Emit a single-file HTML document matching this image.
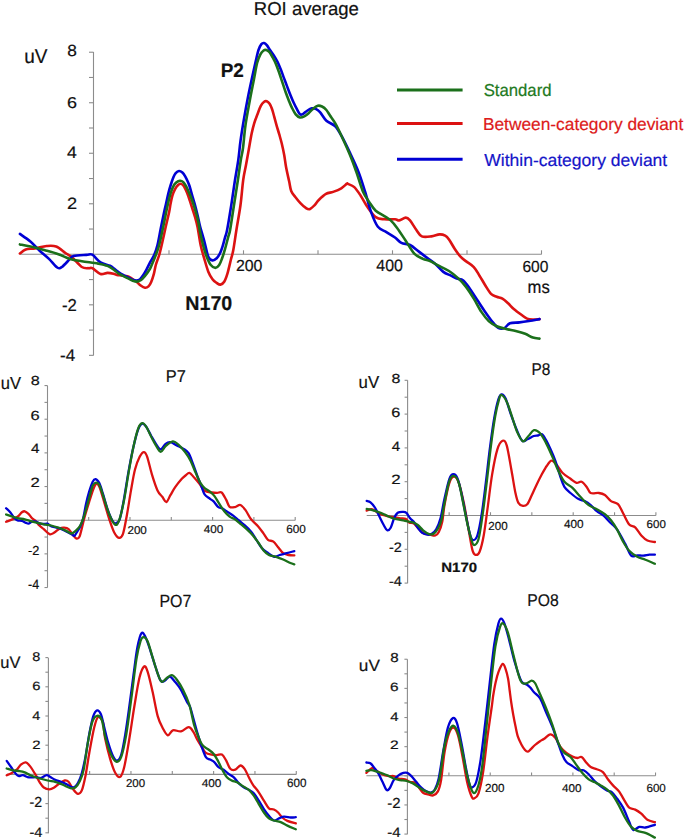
<!DOCTYPE html>
<html><head><meta charset="utf-8"><title>ROI average ERP</title>
<style>
html,body{margin:0;padding:0;background:#fff;}
body{width:685px;height:840px;overflow:hidden;}
svg{display:block;font-family:"Liberation Sans",sans-serif;text-rendering:geometricPrecision;}
</style></head><body>
<svg width="685" height="840" viewBox="0 0 685 840">
<rect width="685" height="840" fill="#fff"/>
<g stroke="#8c8c8c" stroke-width="1.10"><line x1="93.50" y1="52.00" x2="93.50" y2="355.60"/>
<line x1="20.00" y1="254.30" x2="541.60" y2="254.30"/>
<line x1="89.00" y1="355.34" x2="93.50" y2="355.34"/>
<line x1="89.00" y1="330.08" x2="93.50" y2="330.08"/>
<line x1="89.00" y1="304.82" x2="93.50" y2="304.82"/>
<line x1="89.00" y1="279.56" x2="93.50" y2="279.56"/>
<line x1="89.00" y1="254.30" x2="93.50" y2="254.30"/>
<line x1="89.00" y1="229.04" x2="93.50" y2="229.04"/>
<line x1="89.00" y1="203.78" x2="93.50" y2="203.78"/>
<line x1="89.00" y1="178.52" x2="93.50" y2="178.52"/>
<line x1="89.00" y1="153.26" x2="93.50" y2="153.26"/>
<line x1="89.00" y1="128.00" x2="93.50" y2="128.00"/>
<line x1="89.00" y1="102.74" x2="93.50" y2="102.74"/>
<line x1="89.00" y1="77.48" x2="93.50" y2="77.48"/>
<line x1="89.00" y1="52.22" x2="93.50" y2="52.22"/>
<line x1="169.00" y1="250.30" x2="169.00" y2="254.30"/>
<line x1="243.50" y1="250.30" x2="243.50" y2="254.30"/>
<line x1="318.00" y1="250.30" x2="318.00" y2="254.30"/>
<line x1="392.50" y1="250.30" x2="392.50" y2="254.30"/>
<line x1="467.00" y1="250.30" x2="467.00" y2="254.30"/>
<line x1="541.50" y1="250.30" x2="541.50" y2="254.30"/></g>
<path d="M19.90,253.50 C20.87,252.83 23.18,250.35 25.70,249.50 C28.22,248.65 31.50,248.98 35.00,248.40 C38.50,247.82 43.18,246.32 46.70,246.00 C50.22,245.68 52.98,245.33 56.10,246.50 C59.22,247.67 62.68,251.13 65.40,253.00 C68.12,254.87 69.67,255.37 72.40,257.70 C75.13,260.03 79.07,265.25 81.80,267.00 C84.53,268.75 87.05,268.00 88.80,268.20 C90.55,268.40 90.35,267.23 92.30,268.20 C94.25,269.17 97.97,273.22 100.50,274.00 C103.03,274.78 105.33,272.95 107.50,272.90 C109.67,272.85 111.92,273.35 113.50,273.70 C115.08,274.05 115.68,274.70 117.00,275.00 C118.32,275.30 119.65,275.28 121.40,275.50 C123.15,275.72 125.75,275.80 127.50,276.30 C129.25,276.80 130.43,277.62 131.90,278.50 C133.37,279.38 134.83,280.43 136.30,281.60 C137.77,282.77 139.25,284.48 140.70,285.50 C142.15,286.52 143.70,287.55 145.00,287.70 C146.30,287.85 147.47,287.35 148.50,286.40 C149.53,285.45 150.32,284.03 151.20,282.00 C152.08,279.97 153.03,277.03 153.80,274.20 C154.57,271.37 154.90,268.20 155.80,265.00 C156.70,261.80 158.22,258.33 159.20,255.00 C160.18,251.67 160.67,249.45 161.70,245.00 C162.73,240.55 164.15,233.85 165.40,228.30 C166.65,222.75 168.35,215.75 169.20,211.70 C170.05,207.65 169.97,206.70 170.50,204.00 C171.03,201.30 171.62,198.03 172.40,195.50 C173.18,192.97 174.25,190.55 175.20,188.80 C176.15,187.05 177.22,185.83 178.10,185.00 C178.98,184.17 179.63,183.72 180.50,183.80 C181.37,183.88 182.43,184.50 183.30,185.50 C184.17,186.50 184.90,188.13 185.70,189.80 C186.50,191.47 187.38,193.60 188.10,195.50 C188.82,197.40 189.27,198.95 190.00,201.20 C190.73,203.45 191.67,206.37 192.50,209.00 C193.33,211.63 194.17,214.05 195.00,217.00 C195.83,219.95 196.53,221.90 197.50,226.70 C198.47,231.50 199.68,240.53 200.80,245.80 C201.92,251.07 202.95,253.98 204.20,258.30 C205.45,262.62 206.92,268.22 208.30,271.70 C209.68,275.18 211.10,277.33 212.50,279.20 C213.90,281.07 215.38,282.00 216.70,282.90 C218.02,283.80 219.15,284.80 220.40,284.60 C221.65,284.40 223.02,283.58 224.20,281.70 C225.38,279.82 226.40,276.92 227.50,273.30 C228.60,269.68 229.83,263.88 230.80,260.00 C231.77,256.12 232.37,255.00 233.30,250.00 C234.23,245.00 235.20,237.50 236.40,230.00 C237.60,222.50 239.37,213.33 240.50,205.00 C241.63,196.67 242.28,186.67 243.20,180.00 C244.12,173.33 245.08,170.00 246.00,165.00 C246.92,160.00 247.75,155.28 248.70,150.00 C249.65,144.72 250.78,137.75 251.70,133.30 C252.62,128.85 253.23,126.48 254.20,123.30 C255.17,120.12 256.40,117.12 257.50,114.20 C258.60,111.28 259.68,107.88 260.80,105.80 C261.92,103.72 263.22,102.45 264.20,101.70 C265.18,100.95 265.80,100.95 266.70,101.30 C267.60,101.65 268.70,102.48 269.60,103.80 C270.50,105.12 271.33,107.05 272.10,109.20 C272.87,111.35 273.43,113.93 274.20,116.70 C274.97,119.47 275.87,122.88 276.70,125.80 C277.53,128.72 278.37,131.28 279.20,134.20 C280.03,137.12 280.87,139.83 281.70,143.30 C282.53,146.77 283.47,151.00 284.20,155.00 C284.93,159.00 285.27,162.87 286.10,167.30 C286.93,171.73 288.35,177.67 289.20,181.60 C290.05,185.53 290.18,188.33 291.20,190.90 C292.22,193.47 293.77,194.97 295.30,197.00 C296.83,199.03 298.70,201.32 300.40,203.10 C302.10,204.88 303.97,206.68 305.50,207.70 C307.03,208.72 308.07,209.63 309.60,209.20 C311.13,208.77 313.17,206.63 314.70,205.10 C316.23,203.57 316.92,201.87 318.80,200.00 C320.68,198.13 323.62,195.25 326.00,193.90 C328.38,192.55 330.55,192.83 333.10,191.90 C335.65,190.97 339.00,189.67 341.30,188.30 C343.60,186.93 345.80,184.43 346.90,183.70 C348.00,182.97 346.67,183.33 347.90,183.90 C349.13,184.47 352.17,185.13 354.30,187.10 C356.43,189.07 358.57,192.48 360.70,195.70 C362.83,198.92 364.60,202.83 367.10,206.40 C369.60,209.97 372.83,214.95 375.70,217.10 C378.57,219.25 381.08,218.93 384.30,219.30 C387.52,219.67 392.50,219.12 395.00,219.30 C397.50,219.48 397.52,220.68 399.30,220.40 C401.08,220.12 403.92,217.60 405.70,217.60 C407.48,217.60 408.22,218.33 410.00,220.40 C411.78,222.47 414.43,227.33 416.40,230.00 C418.37,232.67 419.30,235.33 421.80,236.40 C424.30,237.47 428.45,236.73 431.40,236.40 C434.35,236.07 437.20,234.52 439.50,234.40 C441.80,234.28 443.62,234.85 445.20,235.70 C446.78,236.55 447.40,237.28 449.00,239.50 C450.60,241.72 452.88,246.13 454.80,249.00 C456.72,251.87 458.60,254.63 460.50,256.70 C462.40,258.77 463.98,259.67 466.20,261.40 C468.42,263.13 471.58,264.72 473.80,267.10 C476.02,269.48 477.60,272.68 479.50,275.70 C481.40,278.72 483.28,282.18 485.20,285.20 C487.12,288.22 489.08,291.88 491.00,293.80 C492.92,295.72 494.80,295.90 496.70,296.70 C498.60,297.50 500.50,297.50 502.40,298.60 C504.30,299.70 506.20,301.57 508.10,303.30 C510.00,305.03 511.58,307.08 513.80,309.00 C516.02,310.92 519.18,313.20 521.40,314.80 C523.62,316.40 525.18,317.82 527.10,318.60 C529.02,319.38 530.83,319.42 532.90,319.50 C534.97,319.58 538.40,319.17 539.50,319.10" fill="none" stroke="#dc1212" stroke-width="2.60" stroke-linejoin="round" stroke-linecap="round"/>
<path d="M19.90,233.90 C21.65,235.15 27.10,238.60 30.40,241.40 C33.70,244.20 36.60,247.78 39.70,250.70 C42.80,253.62 46.08,256.10 49.00,258.90 C51.92,261.70 55.05,266.15 57.20,267.50 C59.35,268.85 59.77,268.43 61.90,267.00 C64.03,265.57 68.05,260.73 70.00,258.90 C71.95,257.07 70.87,256.67 73.60,256.00 C76.33,255.33 83.28,255.12 86.40,254.90 C89.52,254.68 89.95,253.45 92.30,254.70 C94.65,255.95 97.55,260.55 100.50,262.40 C103.45,264.25 107.68,264.72 110.00,265.80 C112.32,266.88 112.93,267.80 114.40,268.90 C115.87,270.00 117.35,271.38 118.80,272.40 C120.25,273.42 121.65,274.20 123.10,275.00 C124.55,275.80 126.03,276.47 127.50,277.20 C128.97,277.93 130.43,278.85 131.90,279.40 C133.37,279.95 134.98,280.50 136.30,280.50 C137.62,280.50 138.63,280.32 139.80,279.40 C140.97,278.48 142.13,276.75 143.30,275.00 C144.47,273.25 145.63,271.08 146.80,268.90 C147.97,266.72 149.07,264.22 150.30,261.90 C151.53,259.58 153.00,257.82 154.20,255.00 C155.40,252.18 156.40,249.45 157.50,245.00 C158.60,240.55 159.68,233.85 160.80,228.30 C161.92,222.75 163.30,215.90 164.20,211.70 C165.10,207.50 165.52,206.12 166.20,203.10 C166.88,200.08 167.55,196.62 168.30,193.60 C169.05,190.58 169.87,187.70 170.70,185.00 C171.53,182.30 172.47,179.38 173.30,177.40 C174.13,175.42 174.75,174.17 175.70,173.10 C176.65,172.03 177.88,171.08 179.00,171.00 C180.12,170.92 181.37,171.70 182.40,172.60 C183.43,173.50 184.33,174.97 185.20,176.40 C186.07,177.83 186.88,179.60 187.60,181.20 C188.32,182.80 188.68,183.42 189.50,186.00 C190.32,188.58 191.58,193.53 192.50,196.70 C193.42,199.87 194.17,201.95 195.00,205.00 C195.83,208.05 196.75,211.83 197.50,215.00 C198.25,218.17 199.00,221.83 199.50,224.00 C200.00,226.17 199.67,225.00 200.50,228.00 C201.33,231.00 203.20,237.22 204.50,242.00 C205.80,246.78 206.97,253.63 208.30,256.70 C209.63,259.77 211.10,260.13 212.50,260.40 C213.90,260.67 215.45,259.48 216.70,258.30 C217.95,257.12 219.03,255.23 220.00,253.30 C220.97,251.37 221.67,249.33 222.50,246.70 C223.33,244.07 224.23,240.28 225.00,237.50 C225.77,234.72 226.05,235.42 227.10,230.00 C228.15,224.58 229.98,213.33 231.30,205.00 C232.62,196.67 233.83,187.50 235.00,180.00 C236.17,172.50 237.38,166.50 238.30,160.00 C239.22,153.50 239.58,147.67 240.50,141.00 C241.42,134.33 242.55,127.33 243.80,120.00 C245.05,112.67 246.60,104.17 248.00,97.00 C249.40,89.83 250.87,83.17 252.20,77.00 C253.53,70.83 254.95,64.50 256.00,60.00 C257.05,55.50 257.60,52.65 258.50,50.00 C259.40,47.35 260.47,45.27 261.40,44.10 C262.33,42.93 263.20,42.82 264.10,43.00 C265.00,43.18 265.82,44.03 266.80,45.20 C267.78,46.37 268.83,48.30 270.00,50.00 C271.17,51.70 272.55,53.43 273.80,55.40 C275.05,57.37 276.35,59.48 277.50,61.80 C278.65,64.12 279.63,66.62 280.70,69.30 C281.77,71.98 282.83,75.05 283.90,77.90 C284.97,80.75 286.02,83.55 287.10,86.40 C288.18,89.25 289.32,92.32 290.40,95.00 C291.48,97.68 292.53,100.18 293.60,102.50 C294.67,104.82 295.73,106.93 296.80,108.90 C297.87,110.87 298.93,113.48 300.00,114.30 C301.07,115.12 301.95,114.43 303.20,113.80 C304.45,113.17 306.07,111.40 307.50,110.50 C308.93,109.60 310.43,108.67 311.80,108.40 C313.17,108.13 314.33,108.28 315.70,108.90 C317.07,109.52 318.22,110.13 320.00,112.10 C321.78,114.07 323.90,118.37 326.40,120.70 C328.90,123.03 332.50,123.60 335.00,126.10 C337.50,128.60 338.90,131.23 341.40,135.70 C343.90,140.17 347.13,146.83 350.00,152.90 C352.87,158.97 356.10,165.68 358.60,172.10 C361.10,178.52 362.87,184.60 365.00,191.40 C367.13,198.20 369.25,207.00 371.40,212.90 C373.55,218.80 375.40,223.60 377.90,226.80 C380.40,230.00 383.55,230.32 386.40,232.10 C389.25,233.88 392.50,235.70 395.00,237.50 C397.50,239.30 398.90,241.65 401.40,242.90 C403.90,244.15 407.13,243.58 410.00,245.00 C412.87,246.42 415.75,249.25 418.60,251.40 C421.45,253.55 424.25,255.75 427.10,257.90 C429.95,260.05 433.00,261.97 435.70,264.30 C438.40,266.63 440.75,270.00 443.30,271.90 C445.85,273.80 448.77,274.58 451.00,275.70 C453.23,276.82 454.65,277.80 456.70,278.60 C458.75,279.40 461.08,278.77 463.30,280.50 C465.52,282.23 467.62,285.67 470.00,289.00 C472.38,292.33 475.07,296.68 477.60,300.50 C480.13,304.32 482.65,308.25 485.20,311.90 C487.75,315.55 490.67,319.70 492.90,322.40 C495.13,325.10 496.70,327.15 498.60,328.10 C500.50,329.05 502.40,328.90 504.30,328.10 C506.20,327.30 507.47,324.25 510.00,323.30 C512.53,322.35 516.33,322.78 519.50,322.40 C522.67,322.02 525.67,321.55 529.00,321.00 C532.33,320.45 537.75,319.42 539.50,319.10" fill="none" stroke="#0000d4" stroke-width="2.60" stroke-linejoin="round" stroke-linecap="round"/>
<path d="M19.90,244.40 C21.65,244.75 25.93,245.45 30.40,246.50 C34.87,247.55 42.03,249.42 46.70,250.70 C51.37,251.98 54.50,252.83 58.40,254.20 C62.30,255.57 66.20,257.73 70.10,258.90 C74.00,260.07 77.13,260.42 81.80,261.20 C86.47,261.98 93.82,262.82 98.10,263.60 C102.38,264.38 104.78,264.80 107.50,265.90 C110.22,267.00 112.52,268.90 114.40,270.20 C116.28,271.50 117.35,272.75 118.80,273.70 C120.25,274.65 121.65,275.17 123.10,275.90 C124.55,276.63 125.88,277.30 127.50,278.10 C129.12,278.90 131.18,280.12 132.80,280.70 C134.42,281.28 135.88,281.67 137.20,281.60 C138.52,281.53 139.40,281.25 140.70,280.30 C142.00,279.35 143.55,277.65 145.00,275.90 C146.45,274.15 148.28,271.62 149.40,269.80 C150.52,267.98 150.63,267.47 151.70,265.00 C152.77,262.53 154.55,258.33 155.80,255.00 C157.05,251.67 158.02,249.45 159.20,245.00 C160.38,240.55 161.72,233.85 162.90,228.30 C164.08,222.75 165.38,215.90 166.25,211.70 C167.12,207.50 167.39,206.12 168.10,203.10 C168.81,200.08 169.63,196.38 170.50,193.60 C171.37,190.82 172.35,188.23 173.30,186.40 C174.25,184.57 175.08,183.55 176.20,182.60 C177.32,181.65 178.82,180.78 180.00,180.70 C181.18,180.62 182.27,181.15 183.30,182.10 C184.33,183.05 185.32,184.80 186.20,186.40 C187.08,188.00 187.68,189.57 188.60,191.70 C189.52,193.83 190.63,196.28 191.70,199.20 C192.77,202.12 193.90,205.45 195.00,209.20 C196.10,212.95 197.47,217.95 198.30,221.70 C199.13,225.45 199.17,227.68 200.00,231.70 C200.83,235.72 202.18,241.63 203.30,245.80 C204.42,249.97 205.45,253.50 206.70,256.70 C207.95,259.90 209.35,263.13 210.80,265.00 C212.25,266.87 214.00,267.90 215.40,267.90 C216.80,267.90 218.08,266.60 219.20,265.00 C220.32,263.40 221.13,260.93 222.10,258.30 C223.07,255.67 223.97,252.80 225.00,249.20 C226.03,245.60 227.45,239.90 228.30,236.70 C229.15,233.50 229.15,235.28 230.10,230.00 C231.05,224.72 232.70,213.33 234.00,205.00 C235.30,196.67 236.77,187.50 237.90,180.00 C239.03,172.50 239.95,165.33 240.80,160.00 C241.65,154.67 242.22,153.83 243.00,148.00 C243.78,142.17 244.38,132.83 245.50,125.00 C246.62,117.17 248.32,108.50 249.70,101.00 C251.08,93.50 252.57,86.33 253.80,80.00 C255.03,73.67 256.00,67.28 257.10,63.00 C258.20,58.72 259.32,56.38 260.40,54.30 C261.48,52.22 262.62,51.22 263.60,50.50 C264.58,49.78 265.32,49.73 266.30,50.00 C267.28,50.27 268.43,50.85 269.50,52.10 C270.57,53.35 271.63,55.53 272.70,57.50 C273.77,59.47 274.83,61.40 275.90,63.90 C276.97,66.40 278.03,69.47 279.10,72.50 C280.17,75.53 281.23,78.88 282.30,82.10 C283.37,85.32 284.42,88.75 285.50,91.80 C286.58,94.85 287.72,97.72 288.80,100.40 C289.88,103.08 290.85,105.58 292.00,107.90 C293.15,110.22 294.37,112.70 295.70,114.30 C297.03,115.90 298.57,117.15 300.00,117.50 C301.43,117.85 302.87,117.12 304.30,116.40 C305.73,115.68 307.17,114.45 308.60,113.20 C310.03,111.95 311.37,110.15 312.90,108.90 C314.43,107.65 316.28,106.10 317.80,105.70 C319.32,105.30 320.57,105.78 322.00,106.50 C323.43,107.22 325.07,108.50 326.40,110.00 C327.73,111.50 328.57,113.35 330.00,115.50 C331.43,117.65 333.10,119.53 335.00,122.90 C336.90,126.27 338.90,130.35 341.40,135.70 C343.90,141.05 347.50,148.93 350.00,155.00 C352.50,161.07 354.25,166.03 356.40,172.10 C358.55,178.17 360.75,186.40 362.90,191.40 C365.05,196.40 367.17,198.88 369.30,202.10 C371.43,205.32 373.20,208.37 375.70,210.70 C378.20,213.03 381.80,214.48 384.30,216.10 C386.80,217.72 388.57,218.43 390.70,220.40 C392.83,222.37 394.60,224.52 397.10,227.90 C399.60,231.28 402.83,236.42 405.70,240.70 C408.57,244.98 411.43,250.57 414.30,253.60 C417.17,256.63 420.28,257.67 422.90,258.90 C425.52,260.13 427.55,259.95 430.00,261.00 C432.45,262.05 434.43,263.53 437.60,265.20 C440.77,266.87 445.50,268.77 449.00,271.00 C452.50,273.23 455.73,275.92 458.60,278.60 C461.47,281.28 463.67,283.77 466.20,287.10 C468.73,290.43 471.27,294.47 473.80,298.60 C476.33,302.73 478.87,308.10 481.40,311.90 C483.93,315.70 486.45,319.02 489.00,321.40 C491.55,323.78 493.83,324.93 496.70,326.20 C499.57,327.47 503.03,328.20 506.20,329.00 C509.37,329.80 512.53,330.20 515.70,331.00 C518.87,331.80 522.33,332.70 525.20,333.80 C528.07,334.90 530.52,336.80 532.90,337.60 C535.28,338.40 538.40,338.43 539.50,338.60" fill="none" stroke="#1b701b" stroke-width="2.60" stroke-linejoin="round" stroke-linecap="round"/>
<text x="67.25" y="56.44" font-size="16.24" textLength="9.60" lengthAdjust="spacingAndGlyphs" fill="#111" stroke="#111" stroke-width="0.20">8</text>
<text x="67.09" y="107.85" font-size="15.68" textLength="10.00" lengthAdjust="spacingAndGlyphs" fill="#111" stroke="#111" stroke-width="0.20">6</text>
<text x="66.99" y="158.30" font-size="16.57" textLength="9.82" lengthAdjust="spacingAndGlyphs" fill="#111" stroke="#111" stroke-width="0.20">4</text>
<text x="67.08" y="209.00" font-size="16.33" textLength="10.13" lengthAdjust="spacingAndGlyphs" fill="#111" stroke="#111" stroke-width="0.20">2</text>
<text x="62.06" y="310.60" font-size="17.33" textLength="14.89" lengthAdjust="spacingAndGlyphs" fill="#111" stroke="#111" stroke-width="0.20">-2</text>
<text x="60.14" y="360.80" font-size="16.86" textLength="15.16" lengthAdjust="spacingAndGlyphs" fill="#111" stroke="#111" stroke-width="0.20">-4</text>
<text x="24.17" y="62.90" font-size="19.90" textLength="23.22" lengthAdjust="spacingAndGlyphs" fill="#111" stroke="#111" stroke-width="0.20">uV</text>
<text x="235.90" y="270.94" font-size="16.10" textLength="26.52" lengthAdjust="spacingAndGlyphs" fill="#111" stroke="#111" stroke-width="0.20">200</text>
<text x="376.33" y="271.44" font-size="16.38" textLength="26.59" lengthAdjust="spacingAndGlyphs" fill="#111" stroke="#111" stroke-width="0.20">400</text>
<text x="522.41" y="271.74" font-size="16.10" textLength="26.00" lengthAdjust="spacingAndGlyphs" fill="#111" stroke="#111" stroke-width="0.20">600</text>
<text x="527.59" y="292.70" font-size="17.80" textLength="22.21" lengthAdjust="spacingAndGlyphs" fill="#111" stroke="#111" stroke-width="0.20">ms</text>
<text x="253.78" y="14.90" font-size="18.70" textLength="105.15" lengthAdjust="spacingAndGlyphs" fill="#111" stroke="#111" stroke-width="0.20">ROI average</text>
<text x="220.74" y="76.60" font-size="19.60" textLength="23.12" lengthAdjust="spacingAndGlyphs" fill="#111" stroke="#111" stroke-width="0.20" font-weight="bold">P2</text>
<text x="185.28" y="309.60" font-size="20.00" textLength="47.02" lengthAdjust="spacingAndGlyphs" fill="#111" stroke="#111" stroke-width="0.20" font-weight="bold">N170</text>
<line x1="397" y1="90.0" x2="462.6" y2="90.0" stroke="#1b701b" stroke-width="3"/>
<line x1="397" y1="123.4" x2="462.6" y2="123.4" stroke="#dc1212" stroke-width="3"/>
<line x1="397" y1="159.2" x2="462.6" y2="159.2" stroke="#0000d4" stroke-width="3"/>
<text x="483.64" y="96.00" font-size="17.30" textLength="67.94" lengthAdjust="spacingAndGlyphs" fill="#1e7a1e" stroke="#1e7a1e" stroke-width="0.20">Standard</text>
<text x="482.88" y="130.10" font-size="17.30" textLength="200.45" lengthAdjust="spacingAndGlyphs" fill="#dd1a1a" stroke="#dd1a1a" stroke-width="0.20">Between-category deviant</text>
<text x="484.22" y="166.10" font-size="17.30" textLength="183.01" lengthAdjust="spacingAndGlyphs" fill="#1414c8" stroke="#1414c8" stroke-width="0.20">Within-category deviant</text>
<g stroke="#8c8c8c" stroke-width="1.10"><line x1="47.50" y1="385.60" x2="47.50" y2="587.60"/>
<line x1="6.00" y1="520.20" x2="295.30" y2="520.20"/>
<line x1="44.50" y1="587.52" x2="47.50" y2="587.52"/>
<line x1="44.50" y1="570.69" x2="47.50" y2="570.69"/>
<line x1="44.50" y1="553.86" x2="47.50" y2="553.86"/>
<line x1="44.50" y1="537.03" x2="47.50" y2="537.03"/>
<line x1="44.50" y1="520.20" x2="47.50" y2="520.20"/>
<line x1="44.50" y1="503.37" x2="47.50" y2="503.37"/>
<line x1="44.50" y1="486.54" x2="47.50" y2="486.54"/>
<line x1="44.50" y1="469.71" x2="47.50" y2="469.71"/>
<line x1="44.50" y1="452.88" x2="47.50" y2="452.88"/>
<line x1="44.50" y1="436.05" x2="47.50" y2="436.05"/>
<line x1="44.50" y1="419.22" x2="47.50" y2="419.22"/>
<line x1="44.50" y1="402.39" x2="47.50" y2="402.39"/>
<line x1="44.50" y1="385.56" x2="47.50" y2="385.56"/>
<line x1="88.70" y1="516.90" x2="88.70" y2="520.20"/>
<line x1="130.00" y1="516.90" x2="130.00" y2="520.20"/>
<line x1="171.30" y1="516.90" x2="171.30" y2="520.20"/>
<line x1="212.60" y1="516.90" x2="212.60" y2="520.20"/>
<line x1="253.90" y1="516.90" x2="253.90" y2="520.20"/>
<line x1="295.20" y1="516.90" x2="295.20" y2="520.20"/></g>
<path d="M6.10,521.80 C7.03,521.43 9.80,520.45 11.70,519.60 C13.60,518.75 15.80,517.92 17.50,516.70 C19.20,515.48 20.68,513.20 21.90,512.30 C23.12,511.40 23.70,511.05 24.80,511.30 C25.90,511.55 27.28,512.65 28.50,513.80 C29.72,514.95 30.88,516.98 32.10,518.20 C33.32,519.42 34.58,519.88 35.80,521.10 C37.02,522.32 38.07,524.17 39.40,525.50 C40.73,526.83 42.10,527.65 43.80,529.10 C45.50,530.55 47.90,533.58 49.60,534.20 C51.30,534.82 52.28,533.77 54.00,532.80 C55.72,531.83 58.20,529.25 59.90,528.40 C61.60,527.55 62.75,527.58 64.20,527.70 C65.65,527.82 67.25,528.02 68.60,529.10 C69.95,530.18 70.97,532.62 72.30,534.20 C73.63,535.78 75.38,538.23 76.60,538.60 C77.82,538.97 78.73,538.10 79.60,536.40 C80.47,534.70 80.95,531.68 81.80,528.40 C82.65,525.12 83.48,521.08 84.70,516.70 C85.92,512.32 87.65,506.72 89.10,502.10 C90.55,497.48 92.18,492.02 93.40,489.00 C94.62,485.98 95.37,484.30 96.40,484.00 C97.43,483.70 98.25,484.00 99.60,487.20 C100.95,490.40 102.88,497.85 104.50,503.20 C106.12,508.55 107.70,514.47 109.30,519.30 C110.90,524.13 112.50,529.12 114.10,532.20 C115.70,535.28 117.42,537.53 118.90,537.80 C120.38,538.07 121.65,537.68 123.00,533.80 C124.35,529.92 125.67,521.73 127.00,514.50 C128.33,507.27 129.67,497.90 131.00,490.40 C132.33,482.90 133.53,475.13 135.00,469.50 C136.47,463.87 138.32,459.50 139.80,456.60 C141.28,453.70 142.68,452.10 143.90,452.10 C145.12,452.10 145.77,452.90 147.10,456.60 C148.43,460.30 150.17,468.67 151.90,474.30 C153.63,479.93 155.77,486.65 157.50,490.40 C159.23,494.15 160.82,494.87 162.30,496.80 C163.78,498.73 165.05,502.27 166.40,502.00 C167.75,501.73 168.93,497.67 170.40,495.20 C171.87,492.73 173.33,489.88 175.20,487.20 C177.07,484.52 179.88,481.05 181.60,479.10 C183.32,477.15 184.18,476.53 185.50,475.50 C186.82,474.47 188.10,472.60 189.50,472.90 C190.90,473.20 192.27,475.52 193.90,477.30 C195.53,479.08 197.52,481.37 199.30,483.60 C201.08,485.83 202.52,489.22 204.60,490.70 C206.68,492.18 209.72,492.13 211.80,492.50 C213.88,492.87 215.47,492.90 217.10,492.90 C218.73,492.90 220.10,491.38 221.60,492.50 C223.10,493.62 224.77,497.22 226.10,499.60 C227.43,501.98 228.12,505.55 229.60,506.80 C231.08,508.05 233.20,507.40 235.00,507.10 C236.80,506.80 238.62,504.45 240.40,505.00 C242.18,505.55 243.92,508.02 245.70,510.40 C247.48,512.78 249.02,516.63 251.10,519.30 C253.18,521.97 256.12,524.02 258.20,526.40 C260.28,528.78 261.97,531.37 263.60,533.60 C265.23,535.83 266.37,538.47 268.00,539.80 C269.63,541.13 271.75,540.40 273.40,541.60 C275.05,542.80 276.27,545.07 277.90,547.00 C279.53,548.93 281.42,551.87 283.20,553.20 C284.98,554.53 286.75,554.63 288.60,555.00 C290.45,555.37 293.35,555.33 294.30,555.40" fill="none" stroke="#dc1212" stroke-width="2.30" stroke-linejoin="round" stroke-linecap="round"/>
<path d="M6.10,508.20 C6.78,508.88 8.78,510.63 10.20,512.30 C11.62,513.97 13.38,516.85 14.60,518.20 C15.82,519.55 16.28,519.97 17.50,520.40 C18.72,520.83 20.57,520.43 21.90,520.80 C23.23,521.17 24.40,522.12 25.50,522.60 C26.60,523.08 27.52,523.83 28.50,523.70 C29.48,523.57 30.32,522.18 31.40,521.80 C32.48,521.42 33.67,521.15 35.00,521.40 C36.33,521.65 37.93,522.87 39.40,523.30 C40.87,523.73 42.47,523.93 43.80,524.00 C45.13,524.07 46.18,523.33 47.40,523.70 C48.62,524.07 49.88,525.62 51.10,526.20 C52.32,526.78 53.23,526.83 54.70,527.20 C56.17,527.57 58.07,527.72 59.90,528.40 C61.73,529.08 63.77,530.33 65.70,531.30 C67.63,532.27 70.03,533.47 71.50,534.20 C72.97,534.93 73.52,536.18 74.50,535.70 C75.48,535.22 76.43,532.88 77.40,531.30 C78.37,529.72 79.33,528.38 80.30,526.20 C81.27,524.02 82.23,521.97 83.20,518.20 C84.17,514.43 85.12,507.98 86.10,503.60 C87.08,499.22 88.00,495.55 89.10,491.90 C90.20,488.25 91.62,483.83 92.70,481.70 C93.78,479.57 94.50,478.87 95.60,479.10 C96.70,479.33 98.08,480.68 99.30,483.10 C100.52,485.52 101.50,489.17 102.90,493.60 C104.30,498.03 106.10,505.15 107.70,509.70 C109.30,514.25 111.17,518.63 112.50,520.90 C113.83,523.17 114.50,523.57 115.70,523.30 C116.90,523.03 118.35,523.18 119.70,519.30 C121.05,515.42 122.32,508.03 123.80,500.00 C125.28,491.97 127.00,479.93 128.60,471.10 C130.20,462.27 131.80,453.97 133.40,447.00 C135.00,440.03 136.72,433.18 138.20,429.30 C139.68,425.42 140.95,424.10 142.30,423.70 C143.65,423.30 144.83,424.90 146.30,426.90 C147.77,428.90 149.50,432.88 151.10,435.70 C152.70,438.52 154.30,441.52 155.90,443.80 C157.50,446.08 159.08,449.40 160.70,449.40 C162.32,449.40 163.98,445.00 165.60,443.80 C167.22,442.60 168.53,441.93 170.40,442.20 C172.27,442.47 174.67,444.33 176.80,445.40 C178.93,446.47 181.23,447.30 183.20,448.60 C185.17,449.90 186.97,450.65 188.60,453.20 C190.23,455.75 191.52,460.03 193.00,463.90 C194.48,467.77 196.15,472.82 197.50,476.40 C198.85,479.98 199.92,482.42 201.10,485.40 C202.28,488.38 203.12,492.07 204.60,494.30 C206.08,496.53 208.50,497.62 210.00,498.80 C211.50,499.98 212.27,500.07 213.60,501.40 C214.93,502.73 216.52,505.60 218.00,506.80 C219.48,508.00 220.85,507.72 222.50,508.60 C224.15,509.48 226.12,510.92 227.90,512.10 C229.68,513.28 231.42,514.35 233.20,515.70 C234.98,517.05 236.82,518.72 238.60,520.20 C240.38,521.68 241.82,522.67 243.90,524.60 C245.98,526.53 249.02,529.27 251.10,531.80 C253.18,534.33 254.62,537.12 256.40,539.80 C258.18,542.48 260.02,545.82 261.80,547.90 C263.58,549.98 265.02,550.82 267.10,552.30 C269.18,553.78 272.22,556.35 274.30,556.80 C276.38,557.25 277.52,555.60 279.60,555.00 C281.68,554.40 284.35,553.85 286.80,553.20 C289.25,552.55 293.05,551.45 294.30,551.10" fill="none" stroke="#0000d4" stroke-width="2.30" stroke-linejoin="round" stroke-linecap="round"/>
<path d="M6.10,514.50 C7.03,514.82 9.80,515.78 11.70,516.40 C13.60,517.02 15.32,517.72 17.50,518.20 C19.68,518.68 22.60,518.82 24.80,519.30 C27.00,519.78 28.75,520.55 30.70,521.10 C32.65,521.65 34.32,522.07 36.50,522.60 C38.68,523.13 41.37,523.82 43.80,524.30 C46.23,524.78 48.67,524.93 51.10,525.50 C53.53,526.07 55.97,526.85 58.40,527.70 C60.83,528.55 63.52,529.63 65.70,530.60 C67.88,531.57 69.80,533.50 71.50,533.50 C73.20,533.50 74.43,531.93 75.90,530.60 C77.37,529.27 78.97,527.82 80.30,525.50 C81.63,523.18 82.68,520.35 83.90,516.70 C85.12,513.05 86.38,507.98 87.60,503.60 C88.82,499.22 90.27,493.53 91.20,490.40 C92.13,487.27 92.33,486.08 93.20,484.80 C94.07,483.52 95.33,482.57 96.40,482.70 C97.47,482.83 98.25,482.72 99.60,485.60 C100.95,488.48 102.88,495.18 104.50,500.00 C106.12,504.82 107.57,510.42 109.30,514.50 C111.03,518.58 113.30,523.43 114.90,524.50 C116.50,525.57 117.42,524.72 118.90,520.90 C120.38,517.08 122.18,509.63 123.80,501.60 C125.42,493.57 127.00,481.80 128.60,472.70 C130.20,463.60 131.80,454.37 133.40,447.00 C135.00,439.63 136.72,432.47 138.20,428.50 C139.68,424.53 140.95,423.47 142.30,423.20 C143.65,422.93 144.83,424.68 146.30,426.90 C147.77,429.12 149.50,433.42 151.10,436.50 C152.70,439.58 154.30,442.85 155.90,445.40 C157.50,447.95 159.08,451.67 160.70,451.80 C162.32,451.93 163.58,447.93 165.60,446.20 C167.62,444.47 170.67,441.67 172.80,441.40 C174.93,441.13 176.38,442.87 178.40,444.60 C180.42,446.33 182.90,449.17 184.90,451.80 C186.90,454.43 188.60,456.88 190.40,460.40 C192.20,463.92 194.07,469.18 195.70,472.90 C197.33,476.62 198.72,480.18 200.20,482.70 C201.68,485.22 202.97,486.52 204.60,488.00 C206.23,489.48 208.35,490.25 210.00,491.60 C211.65,492.95 213.02,494.17 214.50,496.10 C215.98,498.03 217.27,500.67 218.90,503.20 C220.53,505.73 222.52,509.07 224.30,511.30 C226.08,513.53 227.82,515.27 229.60,516.60 C231.38,517.93 233.20,518.10 235.00,519.30 C236.80,520.50 238.32,522.02 240.40,523.80 C242.48,525.58 245.42,528.07 247.50,530.00 C249.58,531.93 251.12,533.32 252.90,535.40 C254.68,537.48 256.42,539.98 258.20,542.50 C259.98,545.02 261.82,548.42 263.60,550.50 C265.38,552.58 266.82,553.95 268.90,555.00 C270.98,556.05 273.72,556.05 276.10,556.80 C278.48,557.55 280.82,558.47 283.20,559.50 C285.58,560.53 288.55,562.20 290.40,563.00 C292.25,563.80 293.65,564.08 294.30,564.30" fill="none" stroke="#1b701b" stroke-width="2.30" stroke-linejoin="round" stroke-linecap="round"/>
<text x="30.70" y="385.47" font-size="13.14" textLength="9.01" lengthAdjust="spacingAndGlyphs" fill="#111" stroke="#111" stroke-width="0.20">8</text>
<text x="30.56" y="419.77" font-size="13.14" textLength="9.16" lengthAdjust="spacingAndGlyphs" fill="#111" stroke="#111" stroke-width="0.20">6</text>
<text x="30.95" y="453.40" font-size="13.52" textLength="8.50" lengthAdjust="spacingAndGlyphs" fill="#111" stroke="#111" stroke-width="0.20">4</text>
<text x="30.56" y="487.00" font-size="13.32" textLength="9.28" lengthAdjust="spacingAndGlyphs" fill="#111" stroke="#111" stroke-width="0.20">2</text>
<text x="28.03" y="555.10" font-size="13.18" textLength="11.42" lengthAdjust="spacingAndGlyphs" fill="#111" stroke="#111" stroke-width="0.20">-2</text>
<text x="28.04" y="588.90" font-size="13.52" textLength="11.12" lengthAdjust="spacingAndGlyphs" fill="#111" stroke="#111" stroke-width="0.20">-4</text>
<text x="0.82" y="389.40" font-size="17.40" textLength="20.25" lengthAdjust="spacingAndGlyphs" fill="#111" stroke="#111" stroke-width="0.20">uV</text>
<text x="165.75" y="382.00" font-size="17.00" textLength="20.07" lengthAdjust="spacingAndGlyphs" fill="#111" stroke="#111" stroke-width="0.20">P7</text>
<text x="127.41" y="533.99" font-size="11.44" textLength="19.44" lengthAdjust="spacingAndGlyphs" fill="#111" stroke="#111" stroke-width="0.20">200</text>
<text x="203.73" y="532.79" font-size="11.44" textLength="19.53" lengthAdjust="spacingAndGlyphs" fill="#111" stroke="#111" stroke-width="0.20">400</text>
<text x="286.20" y="532.89" font-size="11.58" textLength="19.66" lengthAdjust="spacingAndGlyphs" fill="#111" stroke="#111" stroke-width="0.20">600</text>
<g stroke="#8c8c8c" stroke-width="1.10"><line x1="407.60" y1="380.30" x2="407.60" y2="583.30"/>
<line x1="366.70" y1="515.50" x2="655.90" y2="515.50"/>
<line x1="404.60" y1="583.10" x2="407.60" y2="583.10"/>
<line x1="404.60" y1="566.20" x2="407.60" y2="566.20"/>
<line x1="404.60" y1="549.30" x2="407.60" y2="549.30"/>
<line x1="404.60" y1="532.40" x2="407.60" y2="532.40"/>
<line x1="404.60" y1="515.50" x2="407.60" y2="515.50"/>
<line x1="404.60" y1="498.60" x2="407.60" y2="498.60"/>
<line x1="404.60" y1="481.70" x2="407.60" y2="481.70"/>
<line x1="404.60" y1="464.80" x2="407.60" y2="464.80"/>
<line x1="404.60" y1="447.90" x2="407.60" y2="447.90"/>
<line x1="404.60" y1="431.00" x2="407.60" y2="431.00"/>
<line x1="404.60" y1="414.10" x2="407.60" y2="414.10"/>
<line x1="404.60" y1="397.20" x2="407.60" y2="397.20"/>
<line x1="404.60" y1="380.30" x2="407.60" y2="380.30"/>
<line x1="449.15" y1="512.20" x2="449.15" y2="515.50"/>
<line x1="490.50" y1="512.20" x2="490.50" y2="515.50"/>
<line x1="531.85" y1="512.20" x2="531.85" y2="515.50"/>
<line x1="573.20" y1="512.20" x2="573.20" y2="515.50"/>
<line x1="614.55" y1="512.20" x2="614.55" y2="515.50"/>
<line x1="655.90" y1="512.20" x2="655.90" y2="515.50"/></g>
<path d="M366.70,510.70 C367.63,510.47 370.20,508.80 372.30,509.30 C374.40,509.80 376.97,512.60 379.30,513.70 C381.63,514.80 383.97,515.32 386.30,515.90 C388.63,516.48 390.97,516.78 393.30,517.20 C395.63,517.62 398.25,518.12 400.30,518.40 C402.35,518.68 404.13,518.23 405.60,518.90 C407.07,519.57 407.80,521.67 409.10,522.40 C410.40,523.13 411.95,522.42 413.40,523.30 C414.85,524.18 416.18,526.10 417.80,527.70 C419.42,529.30 421.05,531.73 423.10,532.90 C425.15,534.07 428.07,534.27 430.10,534.70 C432.13,535.13 433.85,535.95 435.30,535.50 C436.75,535.05 437.63,534.33 438.80,532.00 C439.97,529.67 441.35,526.00 442.30,521.50 C443.25,517.00 443.32,511.43 444.50,505.00 C445.68,498.57 447.78,487.62 449.40,482.90 C451.02,478.18 452.63,476.70 454.20,476.70 C455.77,476.70 457.17,478.38 458.80,482.90 C460.43,487.42 462.45,496.50 464.00,503.80 C465.55,511.10 466.72,519.07 468.10,526.70 C469.48,534.33 471.08,544.92 472.30,549.60 C473.52,554.28 474.18,554.45 475.40,554.80 C476.62,555.15 478.20,555.00 479.60,551.70 C481.00,548.40 482.42,542.65 483.80,535.00 C485.18,527.35 486.52,515.87 487.90,505.80 C489.28,495.73 490.53,483.97 492.10,474.60 C493.67,465.23 495.57,455.23 497.30,449.60 C499.03,443.97 500.93,441.50 502.50,440.80 C504.07,440.10 505.20,440.45 506.70,445.40 C508.20,450.35 510.05,462.60 511.50,470.50 C512.95,478.40 514.25,487.40 515.40,492.80 C516.55,498.20 517.15,500.72 518.40,502.90 C519.65,505.08 521.38,505.73 522.90,505.90 C524.42,506.07 526.07,505.58 527.50,503.90 C528.93,502.22 529.98,499.00 531.50,495.80 C533.02,492.60 534.90,488.25 536.60,484.70 C538.30,481.15 540.10,477.50 541.70,474.50 C543.30,471.50 545.45,468.00 546.20,466.70 C546.95,465.40 545.35,467.72 546.20,466.70 C547.05,465.68 549.62,460.95 551.30,460.60 C552.98,460.25 554.45,462.58 556.30,464.60 C558.15,466.62 560.03,470.33 562.40,472.70 C564.77,475.07 568.15,477.10 570.50,478.80 C572.85,480.50 574.65,482.40 576.50,482.90 C578.35,483.40 579.90,481.13 581.60,481.80 C583.30,482.47 585.18,485.03 586.70,486.90 C588.22,488.77 588.68,491.98 590.70,493.00 C592.72,494.02 596.43,492.67 598.80,493.00 C601.17,493.33 602.87,493.65 604.90,495.00 C606.93,496.35 608.82,499.58 611.00,501.10 C613.18,502.62 615.98,502.08 618.00,504.10 C620.02,506.12 621.23,509.82 623.10,513.20 C624.97,516.58 627.18,522.03 629.20,524.40 C631.22,526.77 633.18,525.55 635.20,527.40 C637.22,529.25 639.27,533.32 641.30,535.50 C643.33,537.68 645.13,539.42 647.40,540.50 C649.67,541.58 653.65,541.75 654.90,542.00" fill="none" stroke="#dc1212" stroke-width="2.30" stroke-linejoin="round" stroke-linecap="round"/>
<path d="M366.70,500.90 C367.33,501.13 369.13,501.20 370.50,502.30 C371.87,503.40 373.43,505.17 374.90,507.50 C376.37,509.83 377.83,513.38 379.30,516.30 C380.77,519.22 382.38,522.67 383.70,525.00 C385.02,527.33 386.03,529.85 387.20,530.30 C388.37,530.75 389.53,529.75 390.70,527.70 C391.87,525.65 393.03,520.48 394.20,518.00 C395.37,515.52 396.25,513.82 397.70,512.80 C399.15,511.78 401.45,511.90 402.90,511.90 C404.35,511.90 405.23,511.78 406.40,512.80 C407.57,513.82 408.58,516.40 409.90,518.00 C411.22,519.60 412.98,520.78 414.30,522.40 C415.62,524.02 416.48,525.95 417.80,527.70 C419.12,529.45 420.60,531.73 422.20,532.90 C423.80,534.07 425.80,534.55 427.40,534.70 C429.00,534.85 430.33,534.68 431.80,533.80 C433.27,532.92 434.73,532.03 436.20,529.40 C437.67,526.77 439.27,522.90 440.60,518.00 C441.93,513.10 442.73,506.53 444.20,500.00 C445.67,493.47 447.85,483.10 449.40,478.80 C450.95,474.50 452.12,474.20 453.50,474.20 C454.88,474.20 456.30,475.27 457.70,478.80 C459.10,482.33 460.52,489.15 461.90,495.40 C463.28,501.65 464.62,509.70 466.00,516.30 C467.38,522.90 468.98,531.02 470.20,535.00 C471.42,538.98 472.08,540.20 473.30,540.20 C474.52,540.20 476.10,539.33 477.50,535.00 C478.90,530.67 480.32,522.88 481.70,514.20 C483.08,505.52 484.42,494.02 485.80,482.90 C487.18,471.78 488.60,458.27 490.00,447.50 C491.40,436.73 492.82,426.28 494.20,418.30 C495.58,410.32 497.08,403.58 498.30,399.60 C499.52,395.62 500.28,394.58 501.50,394.40 C502.72,394.22 504.05,395.20 505.60,398.50 C507.15,401.80 508.88,408.82 510.80,414.20 C512.72,419.58 515.18,426.37 517.10,430.80 C519.02,435.23 520.57,439.40 522.30,440.80 C524.03,442.20 525.58,440.00 527.50,439.20 C529.42,438.40 532.05,436.62 533.80,436.00 C535.55,435.38 536.62,435.78 538.00,435.50 C539.38,435.22 540.73,433.48 542.10,434.30 C543.47,435.12 544.85,438.03 546.20,440.40 C547.55,442.77 548.68,445.13 550.20,448.50 C551.72,451.87 553.60,455.88 555.30,460.60 C557.00,465.32 558.88,472.42 560.40,476.80 C561.92,481.18 562.72,484.20 564.40,486.90 C566.08,489.60 568.13,490.97 570.50,493.00 C572.87,495.03 576.25,497.75 578.60,499.10 C580.95,500.45 582.58,500.10 584.60,501.10 C586.62,502.10 588.67,503.42 590.70,505.10 C592.73,506.78 594.77,509.52 596.80,511.20 C598.83,512.88 600.53,513.18 602.90,515.20 C605.27,517.22 608.65,520.93 611.00,523.30 C613.35,525.67 614.65,526.02 617.00,529.40 C619.35,532.78 622.73,539.22 625.10,543.60 C627.47,547.98 629.17,553.75 631.20,555.70 C633.23,557.65 635.28,555.30 637.30,555.30 C639.32,555.30 641.28,555.80 643.30,555.70 C645.32,555.60 647.47,554.87 649.40,554.70 C651.33,554.53 653.98,554.70 654.90,554.70" fill="none" stroke="#0000d4" stroke-width="2.30" stroke-linejoin="round" stroke-linecap="round"/>
<path d="M366.70,508.90 C367.63,509.10 370.20,509.52 372.30,510.10 C374.40,510.68 376.97,511.52 379.30,512.40 C381.63,513.28 383.97,514.40 386.30,515.40 C388.63,516.40 390.97,517.67 393.30,518.40 C395.63,519.13 398.12,519.33 400.30,519.80 C402.48,520.27 404.35,520.77 406.40,521.20 C408.45,521.63 410.70,521.77 412.60,522.40 C414.50,523.03 416.05,523.68 417.80,525.00 C419.55,526.32 421.20,528.78 423.10,530.30 C425.00,531.82 427.45,533.52 429.20,534.10 C430.95,534.68 432.13,534.73 433.60,533.80 C435.07,532.87 436.68,530.83 438.00,528.50 C439.32,526.17 440.42,524.05 441.50,519.80 C442.58,515.55 443.18,509.50 444.50,503.00 C445.82,496.50 447.78,485.30 449.40,480.80 C451.02,476.30 452.63,475.65 454.20,476.00 C455.77,476.35 457.35,478.62 458.80,482.90 C460.25,487.18 461.52,495.10 462.90,501.70 C464.28,508.30 465.70,516.25 467.10,522.50 C468.50,528.75 470.15,535.45 471.30,539.20 C472.45,542.95 472.80,545.00 474.00,545.00 C475.20,545.00 477.05,544.33 478.50,539.20 C479.95,534.07 481.30,523.93 482.70,514.20 C484.10,504.47 485.52,492.27 486.90,480.80 C488.28,469.33 489.62,456.15 491.00,445.40 C492.38,434.65 493.87,423.93 495.20,416.30 C496.53,408.67 497.95,403.15 499.00,399.60 C500.05,396.05 500.22,394.65 501.50,395.00 C502.78,395.35 504.97,398.15 506.70,401.70 C508.43,405.25 510.17,411.27 511.90,416.30 C513.63,421.33 515.27,427.73 517.10,431.90 C518.93,436.07 521.00,440.62 522.90,441.30 C524.80,441.98 526.65,437.85 528.50,436.00 C530.35,434.15 532.07,430.65 534.00,430.20 C535.93,429.75 538.07,431.10 540.10,433.30 C542.13,435.50 544.17,439.53 546.20,443.40 C548.23,447.27 550.28,451.95 552.30,456.50 C554.32,461.05 556.28,466.48 558.30,470.70 C560.32,474.92 562.03,478.93 564.40,481.80 C566.77,484.67 569.80,485.37 572.50,487.90 C575.20,490.43 577.90,494.13 580.60,497.00 C583.30,499.87 586.00,503.07 588.70,505.10 C591.40,507.13 594.10,507.68 596.80,509.20 C599.50,510.72 602.53,512.35 604.90,514.20 C607.27,516.05 608.98,517.77 611.00,520.30 C613.02,522.83 614.98,525.85 617.00,529.40 C619.02,532.95 621.07,538.05 623.10,541.60 C625.13,545.15 626.83,548.18 629.20,550.70 C631.57,553.22 634.60,555.18 637.30,556.70 C640.00,558.22 642.47,558.62 645.40,559.80 C648.33,560.98 653.32,563.13 654.90,563.80" fill="none" stroke="#1b701b" stroke-width="2.30" stroke-linejoin="round" stroke-linecap="round"/>
<text x="391.41" y="382.77" font-size="13.14" textLength="8.89" lengthAdjust="spacingAndGlyphs" fill="#111" stroke="#111" stroke-width="0.20">8</text>
<text x="391.27" y="416.77" font-size="13.42" textLength="9.04" lengthAdjust="spacingAndGlyphs" fill="#111" stroke="#111" stroke-width="0.20">6</text>
<text x="391.65" y="450.70" font-size="13.52" textLength="8.39" lengthAdjust="spacingAndGlyphs" fill="#111" stroke="#111" stroke-width="0.20">4</text>
<text x="391.25" y="484.30" font-size="13.32" textLength="9.40" lengthAdjust="spacingAndGlyphs" fill="#111" stroke="#111" stroke-width="0.20">2</text>
<text x="388.96" y="552.10" font-size="13.75" textLength="12.87" lengthAdjust="spacingAndGlyphs" fill="#111" stroke="#111" stroke-width="0.20">-2</text>
<text x="388.95" y="585.70" font-size="13.95" textLength="12.98" lengthAdjust="spacingAndGlyphs" fill="#111" stroke="#111" stroke-width="0.20">-4</text>
<text x="358.61" y="388.30" font-size="17.30" textLength="20.57" lengthAdjust="spacingAndGlyphs" fill="#111" stroke="#111" stroke-width="0.20">uV</text>
<text x="531.54" y="375.40" font-size="17.00" textLength="18.83" lengthAdjust="spacingAndGlyphs" fill="#111" stroke="#111" stroke-width="0.20">P8</text>
<text x="441.30" y="572.00" font-size="13.60" textLength="35.82" lengthAdjust="spacingAndGlyphs" fill="#111" stroke="#111" stroke-width="0.20" font-weight="bold">N170</text>
<text x="488.32" y="530.39" font-size="11.72" textLength="19.34" lengthAdjust="spacingAndGlyphs" fill="#111" stroke="#111" stroke-width="0.20">200</text>
<text x="563.93" y="528.29" font-size="11.72" textLength="19.63" lengthAdjust="spacingAndGlyphs" fill="#111" stroke="#111" stroke-width="0.20">400</text>
<text x="646.61" y="528.29" font-size="11.44" textLength="19.24" lengthAdjust="spacingAndGlyphs" fill="#111" stroke="#111" stroke-width="0.20">600</text>
<g stroke="#8c8c8c" stroke-width="1.10"><line x1="48.40" y1="657.90" x2="48.40" y2="833.30"/>
<line x1="6.70" y1="774.40" x2="296.30" y2="774.40"/>
<line x1="45.40" y1="832.80" x2="48.40" y2="832.80"/>
<line x1="45.40" y1="818.20" x2="48.40" y2="818.20"/>
<line x1="45.40" y1="803.60" x2="48.40" y2="803.60"/>
<line x1="45.40" y1="789.00" x2="48.40" y2="789.00"/>
<line x1="45.40" y1="774.40" x2="48.40" y2="774.40"/>
<line x1="45.40" y1="759.80" x2="48.40" y2="759.80"/>
<line x1="45.40" y1="745.20" x2="48.40" y2="745.20"/>
<line x1="45.40" y1="730.60" x2="48.40" y2="730.60"/>
<line x1="45.40" y1="716.00" x2="48.40" y2="716.00"/>
<line x1="45.40" y1="701.40" x2="48.40" y2="701.40"/>
<line x1="45.40" y1="686.80" x2="48.40" y2="686.80"/>
<line x1="45.40" y1="672.20" x2="48.40" y2="672.20"/>
<line x1="45.40" y1="657.60" x2="48.40" y2="657.60"/>
<line x1="89.63" y1="771.10" x2="89.63" y2="774.40"/>
<line x1="130.96" y1="771.10" x2="130.96" y2="774.40"/>
<line x1="172.29" y1="771.10" x2="172.29" y2="774.40"/>
<line x1="213.62" y1="771.10" x2="213.62" y2="774.40"/>
<line x1="254.95" y1="771.10" x2="254.95" y2="774.40"/>
<line x1="296.28" y1="771.10" x2="296.28" y2="774.40"/></g>
<path d="M6.70,775.20 C7.48,774.88 9.67,774.27 11.40,773.30 C13.13,772.33 15.52,770.83 17.10,769.40 C18.68,767.97 19.47,765.87 20.90,764.70 C22.33,763.53 24.12,762.08 25.70,762.40 C27.28,762.72 28.82,764.63 30.40,766.60 C31.98,768.57 33.60,771.50 35.20,774.20 C36.80,776.90 38.57,780.58 40.00,782.80 C41.43,785.02 42.22,786.40 43.80,787.50 C45.38,788.60 47.77,789.40 49.50,789.40 C51.23,789.40 52.62,788.45 54.20,787.50 C55.78,786.55 57.25,784.87 59.00,783.70 C60.75,782.53 63.12,780.82 64.70,780.50 C66.28,780.18 67.07,780.32 68.50,781.80 C69.93,783.28 71.72,787.40 73.30,789.40 C74.88,791.40 76.58,793.63 78.00,793.80 C79.42,793.97 80.53,793.50 81.80,790.40 C83.07,787.30 84.33,781.55 85.60,775.20 C86.87,768.85 87.97,760.23 89.40,752.30 C90.83,744.37 92.77,733.47 94.20,727.60 C95.63,721.73 96.57,718.05 98.00,717.10 C99.43,716.15 101.62,718.35 102.80,721.90 C103.98,725.45 103.88,732.28 105.10,738.40 C106.32,744.52 108.42,752.87 110.10,758.60 C111.78,764.33 113.52,769.77 115.20,772.80 C116.88,775.83 118.68,777.82 120.20,776.80 C121.72,775.78 122.77,773.10 124.30,766.70 C125.83,760.30 127.72,748.52 129.40,738.40 C131.08,728.28 132.72,716.13 134.40,706.00 C136.08,695.87 137.88,684.18 139.50,677.60 C141.12,671.02 142.75,667.50 144.10,666.50 C145.45,665.50 146.18,667.38 147.60,671.60 C149.02,675.82 150.92,684.38 152.60,691.80 C154.28,699.22 156.00,710.03 157.70,716.10 C159.40,722.17 161.12,725.00 162.80,728.20 C164.48,731.40 166.12,734.95 167.80,735.30 C169.48,735.65 170.70,730.97 172.90,730.30 C175.10,729.63 178.37,731.82 181.00,731.30 C183.63,730.78 186.63,727.10 188.70,727.20 C190.77,727.30 191.92,729.72 193.40,731.90 C194.88,734.08 196.20,737.78 197.60,740.30 C199.00,742.82 200.42,744.90 201.80,747.00 C203.18,749.10 204.23,751.63 205.90,752.90 C207.57,754.17 209.97,754.23 211.80,754.60 C213.63,754.97 215.22,755.10 216.90,755.10 C218.58,755.10 220.37,753.72 221.90,754.60 C223.43,755.48 224.70,758.03 226.10,760.40 C227.50,762.77 228.77,767.25 230.30,768.80 C231.83,770.35 233.62,770.25 235.30,769.70 C236.98,769.15 238.85,765.65 240.40,765.50 C241.95,765.35 243.20,766.85 244.60,768.80 C246.00,770.75 247.40,774.53 248.80,777.20 C250.20,779.87 251.33,782.28 253.00,784.80 C254.67,787.32 256.98,789.65 258.80,792.30 C260.62,794.95 262.22,798.03 263.90,800.70 C265.58,803.37 267.23,806.83 268.90,808.30 C270.57,809.77 272.37,808.80 273.90,809.50 C275.43,810.20 276.70,811.17 278.10,812.50 C279.50,813.83 280.75,816.10 282.30,817.50 C283.85,818.90 285.15,819.92 287.40,820.90 C289.65,821.88 294.40,822.98 295.80,823.40" fill="none" stroke="#dc1212" stroke-width="2.30" stroke-linejoin="round" stroke-linecap="round"/>
<path d="M6.70,760.90 C7.48,762.00 9.82,765.28 11.40,767.50 C12.98,769.72 14.93,772.77 16.20,774.20 C17.47,775.63 17.90,775.93 19.00,776.10 C20.10,776.27 21.37,775.03 22.80,775.20 C24.23,775.37 26.17,776.73 27.60,777.10 C29.03,777.47 29.97,777.40 31.40,777.40 C32.83,777.40 34.62,777.00 36.20,777.10 C37.78,777.20 39.17,778.32 40.90,778.00 C42.63,777.68 45.02,775.35 46.60,775.20 C48.18,775.05 48.97,776.32 50.40,777.10 C51.83,777.88 53.45,779.12 55.20,779.90 C56.95,780.68 59.00,781.07 60.90,781.80 C62.80,782.53 64.53,783.35 66.60,784.30 C68.67,785.25 71.40,787.75 73.30,787.50 C75.20,787.25 76.58,785.17 78.00,782.80 C79.42,780.43 80.53,777.75 81.80,773.30 C83.07,768.85 84.33,762.77 85.60,756.10 C86.87,749.43 88.12,739.95 89.40,733.30 C90.68,726.65 92.02,720.02 93.30,716.20 C94.58,712.38 95.83,710.72 97.10,710.40 C98.37,710.08 99.75,711.67 100.90,714.30 C102.05,716.93 102.80,721.52 104.00,726.20 C105.20,730.88 106.57,737.33 108.10,742.40 C109.63,747.47 111.68,753.57 113.20,756.60 C114.72,759.63 115.85,760.93 117.20,760.60 C118.55,760.27 119.95,758.98 121.30,754.60 C122.65,750.22 123.95,742.40 125.30,734.30 C126.65,726.20 128.05,715.78 129.40,706.00 C130.75,696.22 132.07,685.38 133.40,675.60 C134.73,665.82 136.05,654.38 137.40,647.30 C138.75,640.22 140.15,634.80 141.50,633.10 C142.85,631.40 143.98,634.07 145.50,637.10 C147.02,640.13 148.90,646.23 150.60,651.30 C152.30,656.37 154.02,662.60 155.70,667.50 C157.38,672.40 159.18,678.50 160.70,680.70 C162.22,682.90 163.28,681.38 164.80,680.70 C166.32,680.02 168.12,676.43 169.80,676.60 C171.48,676.77 173.03,679.50 174.90,681.70 C176.77,683.90 178.98,686.43 181.00,689.80 C183.02,693.17 185.50,699.08 187.00,701.90 C188.50,704.72 188.93,703.93 190.00,706.70 C191.07,709.47 192.13,714.02 193.40,718.50 C194.67,722.98 196.20,728.85 197.60,733.60 C199.00,738.35 200.42,743.08 201.80,747.00 C203.18,750.92 204.52,755.00 205.90,757.10 C207.28,759.20 208.70,758.77 210.10,759.60 C211.50,760.43 212.90,760.83 214.30,762.10 C215.70,763.37 216.95,765.93 218.50,767.20 C220.05,768.47 221.92,768.58 223.60,769.70 C225.28,770.82 226.93,772.65 228.60,773.90 C230.27,775.15 231.92,775.67 233.60,777.20 C235.28,778.73 237.02,781.42 238.70,783.10 C240.38,784.78 242.02,786.18 243.70,787.30 C245.38,788.42 247.12,788.82 248.80,789.80 C250.48,790.78 252.13,791.38 253.80,793.20 C255.47,795.02 257.12,798.05 258.80,800.70 C260.48,803.35 262.22,806.58 263.90,809.10 C265.58,811.62 267.23,813.90 268.90,815.80 C270.57,817.70 272.22,820.07 273.90,820.50 C275.58,820.93 277.32,819.03 279.00,818.40 C280.68,817.77 282.05,816.85 284.00,816.70 C285.95,816.55 288.73,817.42 290.70,817.50 C292.67,817.58 294.95,817.25 295.80,817.20" fill="none" stroke="#0000d4" stroke-width="2.30" stroke-linejoin="round" stroke-linecap="round"/>
<path d="M6.70,768.50 C7.80,768.82 11.25,769.98 13.30,770.40 C15.35,770.82 17.10,770.68 19.00,771.00 C20.90,771.32 22.80,771.60 24.70,772.30 C26.60,773.00 28.17,774.25 30.40,775.20 C32.63,776.15 35.23,777.12 38.10,778.00 C40.97,778.88 44.75,779.87 47.60,780.50 C50.45,781.13 52.67,781.10 55.20,781.80 C57.73,782.50 60.27,783.65 62.80,784.70 C65.33,785.75 68.33,787.63 70.40,788.10 C72.47,788.57 73.62,788.70 75.20,787.50 C76.78,786.30 78.48,783.92 79.90,780.90 C81.32,777.88 82.43,775.43 83.70,769.40 C84.97,763.37 86.07,752.62 87.50,744.70 C88.93,736.78 90.70,726.72 92.30,721.90 C93.90,717.08 95.52,716.12 97.10,715.80 C98.68,715.48 100.47,716.58 101.80,720.00 C103.13,723.42 103.72,730.88 105.10,736.30 C106.48,741.72 108.25,748.28 110.10,752.50 C111.95,756.72 114.33,760.92 116.20,761.60 C118.07,762.28 119.62,761.15 121.30,756.60 C122.98,752.05 124.62,744.08 126.30,734.30 C127.98,724.52 129.72,710.38 131.40,697.90 C133.08,685.42 134.88,668.85 136.40,659.40 C137.92,649.95 139.32,644.92 140.50,641.20 C141.68,637.48 142.32,637.10 143.50,637.10 C144.68,637.10 146.08,637.82 147.60,641.20 C149.12,644.58 150.92,652.00 152.60,657.40 C154.28,662.80 156.18,669.55 157.70,673.60 C159.22,677.65 160.18,680.97 161.70,681.70 C163.22,682.43 165.10,679.08 166.80,678.00 C168.50,676.92 170.22,674.92 171.90,675.20 C173.58,675.48 175.05,677.27 176.90,679.70 C178.75,682.13 180.97,685.75 183.00,689.80 C185.03,693.85 187.23,698.10 189.10,704.00 C190.97,709.90 192.65,719.72 194.20,725.20 C195.75,730.68 197.00,733.55 198.40,736.90 C199.80,740.25 200.92,743.20 202.60,745.30 C204.28,747.40 206.68,748.10 208.50,749.50 C210.32,750.90 211.97,751.88 213.50,753.70 C215.03,755.52 216.17,757.60 217.70,760.40 C219.23,763.20 221.17,767.70 222.70,770.50 C224.23,773.30 225.35,775.52 226.90,777.20 C228.45,778.88 230.32,779.75 232.00,780.60 C233.68,781.45 235.33,781.47 237.00,782.30 C238.67,783.13 240.03,784.35 242.00,785.60 C243.97,786.85 246.83,788.12 248.80,789.80 C250.77,791.48 252.13,793.32 253.80,795.70 C255.47,798.08 257.12,801.30 258.80,804.10 C260.48,806.90 262.22,810.12 263.90,812.50 C265.58,814.88 267.23,817.07 268.90,818.40 C270.57,819.73 271.93,819.87 273.90,820.50 C275.87,821.13 278.45,821.35 280.70,822.20 C282.95,823.05 284.88,824.42 287.40,825.60 C289.92,826.78 294.40,828.68 295.80,829.30" fill="none" stroke="#1b701b" stroke-width="2.30" stroke-linejoin="round" stroke-linecap="round"/>
<text x="32.27" y="661.28" font-size="12.71" textLength="8.06" lengthAdjust="spacingAndGlyphs" fill="#111" stroke="#111" stroke-width="0.20">8</text>
<text x="32.15" y="690.28" font-size="12.01" textLength="8.20" lengthAdjust="spacingAndGlyphs" fill="#111" stroke="#111" stroke-width="0.20">6</text>
<text x="32.17" y="720.00" font-size="12.50" textLength="7.95" lengthAdjust="spacingAndGlyphs" fill="#111" stroke="#111" stroke-width="0.20">4</text>
<text x="32.15" y="748.90" font-size="12.17" textLength="8.30" lengthAdjust="spacingAndGlyphs" fill="#111" stroke="#111" stroke-width="0.20">2</text>
<text x="29.47" y="807.30" font-size="14.61" textLength="12.65" lengthAdjust="spacingAndGlyphs" fill="#111" stroke="#111" stroke-width="0.20">-2</text>
<text x="29.45" y="836.70" font-size="13.81" textLength="12.98" lengthAdjust="spacingAndGlyphs" fill="#111" stroke="#111" stroke-width="0.20">-4</text>
<text x="0.23" y="667.50" font-size="16.60" textLength="20.14" lengthAdjust="spacingAndGlyphs" fill="#111" stroke="#111" stroke-width="0.20">uV</text>
<text x="159.50" y="607.00" font-size="17.50" textLength="31.80" lengthAdjust="spacingAndGlyphs" fill="#111" stroke="#111" stroke-width="0.20">PO7</text>
<text x="125.92" y="786.69" font-size="11.44" textLength="19.23" lengthAdjust="spacingAndGlyphs" fill="#111" stroke="#111" stroke-width="0.20">200</text>
<text x="201.73" y="786.69" font-size="11.30" textLength="19.73" lengthAdjust="spacingAndGlyphs" fill="#111" stroke="#111" stroke-width="0.20">400</text>
<text x="287.11" y="787.48" font-size="12.15" textLength="19.45" lengthAdjust="spacingAndGlyphs" fill="#111" stroke="#111" stroke-width="0.20">600</text>
<g stroke="#8c8c8c" stroke-width="1.10"><line x1="407.40" y1="659.30" x2="407.40" y2="834.30"/>
<line x1="366.40" y1="775.80" x2="655.50" y2="775.80"/>
<line x1="404.40" y1="834.08" x2="407.40" y2="834.08"/>
<line x1="404.40" y1="819.51" x2="407.40" y2="819.51"/>
<line x1="404.40" y1="804.94" x2="407.40" y2="804.94"/>
<line x1="404.40" y1="790.37" x2="407.40" y2="790.37"/>
<line x1="404.40" y1="775.80" x2="407.40" y2="775.80"/>
<line x1="404.40" y1="761.23" x2="407.40" y2="761.23"/>
<line x1="404.40" y1="746.66" x2="407.40" y2="746.66"/>
<line x1="404.40" y1="732.09" x2="407.40" y2="732.09"/>
<line x1="404.40" y1="717.52" x2="407.40" y2="717.52"/>
<line x1="404.40" y1="702.95" x2="407.40" y2="702.95"/>
<line x1="404.40" y1="688.38" x2="407.40" y2="688.38"/>
<line x1="404.40" y1="673.81" x2="407.40" y2="673.81"/>
<line x1="404.40" y1="659.24" x2="407.40" y2="659.24"/>
<line x1="448.92" y1="772.50" x2="448.92" y2="775.80"/>
<line x1="490.24" y1="772.50" x2="490.24" y2="775.80"/>
<line x1="531.56" y1="772.50" x2="531.56" y2="775.80"/>
<line x1="572.88" y1="772.50" x2="572.88" y2="775.80"/>
<line x1="614.20" y1="772.50" x2="614.20" y2="775.80"/>
<line x1="655.52" y1="772.50" x2="655.52" y2="775.80"/></g>
<path d="M366.40,772.90 C367.33,772.10 370.38,768.50 372.00,768.10 C373.62,767.70 374.35,769.43 376.10,770.50 C377.85,771.57 380.37,773.57 382.50,774.50 C384.63,775.43 387.03,775.83 388.90,776.10 C390.77,776.37 392.10,775.70 393.70,776.10 C395.30,776.50 396.62,777.97 398.50,778.50 C400.38,779.03 403.12,778.75 405.00,779.30 C406.88,779.85 408.07,781.18 409.80,781.80 C411.53,782.42 413.80,781.93 415.40,783.00 C417.00,784.07 418.07,786.53 419.40,788.20 C420.73,789.87 421.92,791.98 423.40,793.00 C424.88,794.02 426.68,793.90 428.30,794.30 C429.92,794.70 431.50,795.88 433.10,795.40 C434.70,794.92 436.57,793.95 437.90,791.40 C439.23,788.85 440.00,786.58 441.10,780.10 C442.20,773.62 443.18,760.30 444.50,752.50 C445.82,744.70 447.48,737.45 449.00,733.30 C450.52,729.15 452.08,727.22 453.60,727.60 C455.12,727.98 456.60,730.70 458.10,735.60 C459.60,740.50 461.10,749.28 462.60,757.00 C464.10,764.72 465.58,775.28 467.10,781.90 C468.62,788.52 470.48,793.98 471.70,796.70 C472.92,799.42 473.27,798.77 474.40,798.20 C475.53,797.63 477.07,797.52 478.50,793.30 C479.93,789.08 481.50,782.33 483.00,772.90 C484.50,763.47 486.00,748.02 487.50,736.70 C489.00,725.38 491.05,711.87 492.00,705.00 C492.95,698.13 492.60,699.27 493.20,695.50 C493.80,691.73 494.70,686.37 495.60,682.40 C496.50,678.43 497.42,674.78 498.60,671.70 C499.78,668.62 501.52,664.30 502.70,663.90 C503.88,663.50 504.80,666.82 505.70,669.30 C506.60,671.78 507.45,675.35 508.10,678.80 C508.75,682.25 509.08,686.05 509.60,690.00 C510.12,693.95 510.63,698.33 511.25,702.50 C511.87,706.67 512.61,711.12 513.30,715.00 C513.99,718.88 514.63,722.18 515.40,725.80 C516.17,729.42 516.92,733.63 517.90,736.70 C518.88,739.77 520.07,741.98 521.25,744.20 C522.43,746.42 523.89,748.75 525.00,750.00 C526.11,751.25 526.93,751.83 527.90,751.70 C528.87,751.57 529.62,750.32 530.80,749.20 C531.98,748.08 533.47,746.33 535.00,745.00 C536.53,743.67 538.47,742.28 540.00,741.25 C541.53,740.22 542.50,739.94 544.20,738.80 C545.90,737.66 548.35,734.57 550.20,734.40 C552.05,734.23 553.60,735.72 555.30,737.80 C557.00,739.88 558.55,744.37 560.40,746.90 C562.25,749.43 564.38,751.38 566.40,753.00 C568.42,754.62 570.63,755.77 572.50,756.60 C574.37,757.43 576.08,757.93 577.60,758.00 C579.12,758.07 580.08,756.15 581.60,757.00 C583.12,757.85 585.18,761.42 586.70,763.10 C588.22,764.78 589.02,766.08 590.70,767.10 C592.38,768.12 594.77,768.35 596.80,769.20 C598.83,770.05 601.05,770.52 602.90,772.20 C604.75,773.88 606.22,777.10 607.90,779.30 C609.58,781.50 611.15,783.38 613.00,785.40 C614.85,787.42 616.98,788.70 619.00,791.40 C621.02,794.10 623.40,798.90 625.10,801.60 C626.80,804.30 627.52,806.27 629.20,807.60 C630.88,808.93 633.18,808.58 635.20,809.60 C637.22,810.62 639.27,812.00 641.30,813.70 C643.33,815.40 645.13,818.38 647.40,819.80 C649.67,821.22 653.65,821.80 654.90,822.20" fill="none" stroke="#dc1212" stroke-width="2.30" stroke-linejoin="round" stroke-linecap="round"/>
<path d="M366.40,762.50 C367.07,762.63 369.05,762.37 370.40,763.30 C371.75,764.23 373.15,766.37 374.50,768.10 C375.85,769.83 377.17,771.42 378.50,773.70 C379.83,775.98 381.17,779.12 382.50,781.80 C383.83,784.48 385.30,788.73 386.50,789.80 C387.70,790.87 388.50,789.82 389.70,788.20 C390.90,786.58 392.23,782.25 393.70,780.10 C395.17,777.95 396.88,776.50 398.50,775.30 C400.12,774.10 401.92,773.30 403.40,772.90 C404.88,772.50 406.07,772.37 407.40,772.90 C408.73,773.43 409.93,774.62 411.40,776.10 C412.87,777.58 414.60,779.92 416.20,781.80 C417.80,783.68 419.40,785.85 421.00,787.40 C422.60,788.95 424.18,790.22 425.80,791.10 C427.42,791.98 429.22,792.92 430.70,792.70 C432.18,792.48 433.37,792.17 434.70,789.80 C436.03,787.43 437.25,785.08 438.70,778.50 C440.15,771.92 441.87,758.78 443.40,750.30 C444.93,741.82 446.32,732.97 447.90,727.60 C449.48,722.23 451.38,718.85 452.90,718.10 C454.42,717.35 455.57,718.87 457.00,723.10 C458.43,727.33 460.00,735.95 461.50,743.50 C463.00,751.05 464.68,761.62 466.00,768.40 C467.32,775.18 468.45,781.00 469.40,784.20 C470.35,787.40 470.57,787.97 471.70,787.60 C472.83,787.23 474.70,786.72 476.20,782.00 C477.70,777.28 479.20,769.12 480.70,759.30 C482.20,749.48 483.68,735.92 485.20,723.10 C486.72,710.28 488.28,695.60 489.80,682.40 C491.32,669.20 492.87,653.70 494.30,643.90 C495.73,634.10 497.27,627.82 498.40,623.60 C499.53,619.38 500.08,618.60 501.10,618.60 C502.12,618.60 503.18,620.13 504.50,623.60 C505.82,627.07 507.30,633.00 509.00,639.40 C510.70,645.80 512.63,655.02 514.70,662.00 C516.77,668.98 519.33,677.52 521.40,681.30 C523.47,685.08 525.58,683.62 527.10,684.70 C528.62,685.78 529.35,686.53 530.50,687.80 C531.65,689.07 532.40,690.55 534.00,692.30 C535.60,694.05 538.07,694.93 540.10,698.30 C542.13,701.67 544.17,707.77 546.20,712.50 C548.23,717.23 550.45,721.98 552.30,726.70 C554.15,731.42 555.62,736.08 557.30,740.80 C558.98,745.52 560.88,751.45 562.40,755.00 C563.92,758.55 564.72,760.25 566.40,762.10 C568.08,763.95 570.47,764.75 572.50,766.10 C574.53,767.45 576.75,769.52 578.60,770.20 C580.45,770.88 581.92,769.53 583.60,770.20 C585.28,770.87 586.83,772.35 588.70,774.20 C590.57,776.05 592.78,779.27 594.80,781.30 C596.82,783.33 598.78,784.88 600.80,786.40 C602.82,787.92 605.03,789.40 606.90,790.40 C608.77,791.40 610.32,791.05 612.00,792.40 C613.68,793.75 615.15,795.97 617.00,798.50 C618.85,801.03 621.07,803.72 623.10,807.60 C625.13,811.48 627.52,818.08 629.20,821.80 C630.88,825.52 631.52,829.05 633.20,829.90 C634.88,830.75 637.27,827.30 639.30,826.90 C641.33,826.50 642.80,827.85 645.40,827.50 C648.00,827.15 653.32,825.25 654.90,824.80" fill="none" stroke="#0000d4" stroke-width="2.30" stroke-linejoin="round" stroke-linecap="round"/>
<path d="M366.40,770.80 C367.20,770.70 369.58,770.12 371.20,770.20 C372.82,770.28 374.48,770.85 376.10,771.30 C377.72,771.75 379.03,772.23 380.90,772.90 C382.77,773.57 385.17,774.37 387.30,775.30 C389.43,776.23 391.57,777.70 393.70,778.50 C395.83,779.30 397.95,779.68 400.10,780.10 C402.25,780.52 404.45,780.45 406.60,781.00 C408.75,781.55 411.13,782.47 413.00,783.40 C414.87,784.33 415.93,785.40 417.80,786.60 C419.67,787.80 421.92,789.53 424.20,790.60 C426.48,791.67 429.62,793.27 431.50,793.00 C433.38,792.73 434.17,791.42 435.50,789.00 C436.83,786.58 438.00,785.72 439.50,778.50 C441.00,771.28 442.92,753.62 444.50,745.70 C446.08,737.78 447.48,734.32 449.00,731.00 C450.52,727.68 452.08,725.42 453.60,725.80 C455.12,726.18 456.60,728.85 458.10,733.30 C459.60,737.75 461.10,745.52 462.60,752.50 C464.10,759.48 465.40,768.60 467.10,775.20 C468.80,781.80 471.10,789.85 472.80,792.10 C474.50,794.35 475.78,792.65 477.30,788.70 C478.82,784.75 480.38,778.58 481.90,768.40 C483.42,758.22 484.90,741.55 486.40,727.60 C487.90,713.65 489.40,698.27 490.90,684.70 C492.40,671.13 493.88,655.82 495.40,646.20 C496.92,636.58 498.68,630.77 500.00,627.00 C501.32,623.23 501.98,622.67 503.30,623.60 C504.62,624.53 506.20,627.33 507.90,632.60 C509.60,637.87 511.43,647.28 513.50,655.20 C515.57,663.12 518.22,675.38 520.30,680.10 C522.38,684.82 524.12,683.42 526.00,683.50 C527.88,683.58 530.10,680.68 531.60,680.60 C533.10,680.52 533.58,680.72 535.00,683.00 C536.42,685.28 538.23,690.05 540.10,694.30 C541.97,698.55 544.17,703.45 546.20,708.50 C548.23,713.55 550.28,718.87 552.30,724.60 C554.32,730.33 556.45,738.33 558.30,742.90 C560.15,747.47 561.37,749.65 563.40,752.00 C565.43,754.35 568.32,754.82 570.50,757.00 C572.68,759.18 574.48,762.40 576.50,765.10 C578.52,767.80 580.57,770.83 582.60,773.20 C584.63,775.57 586.67,777.78 588.70,779.30 C590.73,780.82 592.78,781.28 594.80,782.30 C596.82,783.32 598.78,784.22 600.80,785.40 C602.82,786.58 604.87,787.72 606.90,789.40 C608.93,791.08 610.98,792.80 613.00,795.50 C615.02,798.20 616.98,801.90 619.00,805.60 C621.02,809.30 623.07,814.15 625.10,817.70 C627.13,821.25 629.17,824.70 631.20,826.90 C633.23,829.10 634.93,829.90 637.30,830.90 C639.67,831.90 642.47,831.78 645.40,832.90 C648.33,834.02 653.32,836.82 654.90,837.60" fill="none" stroke="#1b701b" stroke-width="2.30" stroke-linejoin="round" stroke-linecap="round"/>
<text x="390.24" y="661.97" font-size="12.99" textLength="8.42" lengthAdjust="spacingAndGlyphs" fill="#111" stroke="#111" stroke-width="0.20">8</text>
<text x="390.12" y="690.88" font-size="12.15" textLength="8.56" lengthAdjust="spacingAndGlyphs" fill="#111" stroke="#111" stroke-width="0.20">6</text>
<text x="390.16" y="720.70" font-size="12.50" textLength="8.28" lengthAdjust="spacingAndGlyphs" fill="#111" stroke="#111" stroke-width="0.20">4</text>
<text x="390.12" y="749.30" font-size="12.32" textLength="8.67" lengthAdjust="spacingAndGlyphs" fill="#111" stroke="#111" stroke-width="0.20">2</text>
<text x="387.23" y="807.90" font-size="14.61" textLength="13.32" lengthAdjust="spacingAndGlyphs" fill="#111" stroke="#111" stroke-width="0.20">-2</text>
<text x="387.24" y="837.00" font-size="13.81" textLength="13.30" lengthAdjust="spacingAndGlyphs" fill="#111" stroke="#111" stroke-width="0.20">-4</text>
<text x="358.89" y="671.40" font-size="16.30" textLength="20.99" lengthAdjust="spacingAndGlyphs" fill="#111" stroke="#111" stroke-width="0.20">uV</text>
<text x="527.21" y="605.50" font-size="17.00" textLength="31.47" lengthAdjust="spacingAndGlyphs" fill="#111" stroke="#111" stroke-width="0.20">PO8</text>
<text x="485.11" y="791.99" font-size="11.72" textLength="19.44" lengthAdjust="spacingAndGlyphs" fill="#111" stroke="#111" stroke-width="0.20">200</text>
<text x="561.93" y="791.69" font-size="11.30" textLength="19.53" lengthAdjust="spacingAndGlyphs" fill="#111" stroke="#111" stroke-width="0.20">400</text>
<text x="646.41" y="791.89" font-size="11.58" textLength="19.45" lengthAdjust="spacingAndGlyphs" fill="#111" stroke="#111" stroke-width="0.20">600</text>
</svg>
</body></html>
